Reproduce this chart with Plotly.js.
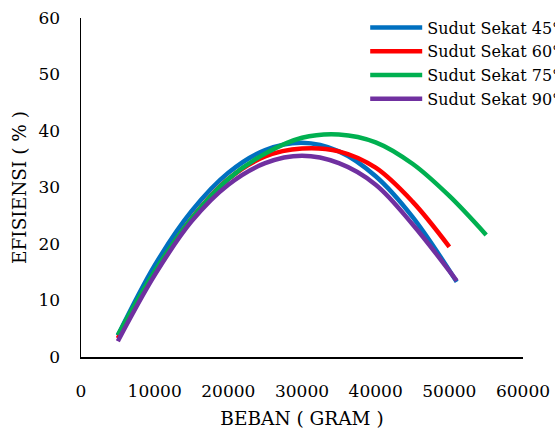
<!DOCTYPE html>
<html>
<head>
<meta charset="utf-8">
<script src="https://cdn.plot.ly/plotly-3.0.1.min.js"></script>
<style>html,body{margin:0;padding:0;background:#fff;}#chart{width:555px;height:432px;}</style>
</head>
<body>
<div id="chart"></div>
<script>
var seriesNames = ["Sudut Sekat 45°", "Sudut Sekat 60°", "Sudut Sekat 75°", "Sudut Sekat 90°"];
var seriesColors = ["#0070C0", "#FF0000", "#00B050", "#7030A0"];

var beban45 = [5000, 10000, 15000, 20000, 25000, 30000, 35000, 40000, 45000, 51000];
var efisiensi45 = [3.8, 16.2, 25.8, 32.6, 36.6, 37.9, 36.4, 32.0, 24.8, 13.3];

var beban60 = [5000, 10000, 15000, 20000, 25000, 30000, 35000, 40000, 45000, 50000];
var efisiensi60 = [3.3, 15.0, 24.5, 31.5, 35.5, 36.9, 36.4, 33.5, 27.5, 19.5];

var beban75 = [5000, 10000, 15000, 20000, 25000, 30000, 35000, 40000, 45000, 50000, 55000];
var efisiensi75 = [3.9, 15.2, 24.5, 31.5, 36.0, 38.8, 39.4, 38.0, 34.2, 28.5, 21.6];

var beban90 = [5000, 10000, 15000, 20000, 25000, 30000, 35000, 40000, 45000, 51000];
var efisiensi90 = [2.8, 14.5, 24.0, 30.5, 34.3, 35.6, 34.3, 30.5, 23.5, 13.5];

var xTicks = [0, 10000, 20000, 30000, 40000, 50000, 60000];
var yTicks = [0, 10, 20, 30, 40, 50, 60];

var xs = [beban45, beban60, beban75, beban90];
var ys = [efisiensi45, efisiensi60, efisiensi75, efisiensi90];

var FONT = "DejaVu Serif";
var traces = [];
for (var i = 0; i < 4; i++) {
  traces.push({
    x: xs[i], y: ys[i], name: seriesNames[i], type: "scatter", mode: "lines",
    line: {color: seriesColors[i], width: 4.5, shape: "spline", smoothing: 1}
  });
}

var layout = {
  width: 555, height: 432,
  margin: {l: 81, r: 32, t: 18, b: 75, autoexpand: false},
  paper_bgcolor: "#fff", plot_bgcolor: "#fff",
  font: {family: FONT, size: 17, color: "#000"},
  showlegend: true,
  legend: {
    x: 0.643, y: 1.022, xanchor: "left", yanchor: "top",
    bgcolor: "rgba(0,0,0,0)", font: {family: FONT, size: 16, color: "#000"},
    tracegroupgap: 0, itemwidth: 52
  },
  xaxis: {
    range: [0, 60000], tickvals: xTicks, ticktext: xTicks.map(String),
    showgrid: false, zeroline: false, showline: true, linecolor: "#000", linewidth: 1.5,
    ticks: "", ticklabelstandoff: 18,
    tickfont: {family: FONT, size: 17, color: "#000"},
    title: {text: "BEBAN ( GRAM )", font: {family: FONT, size: 18.5, color: "#000"}, standoff: 12}
  },
  yaxis: {
    range: [0, 60], tickvals: yTicks, ticktext: yTicks.map(String),
    showgrid: false, zeroline: false, showline: true, linecolor: "#000", linewidth: 1.5,
    ticks: "", ticklabelstandoff: 16,
    tickfont: {family: FONT, size: 17, color: "#000"},
    title: {text: "EFISIENSI ( % )", font: {family: FONT, size: 18.5, color: "#000"}, standoff: 7}
  }
};

Plotly.newPlot("chart", traces, layout, {displayModeBar: false, staticPlot: true});
</script>
</body>
</html>
